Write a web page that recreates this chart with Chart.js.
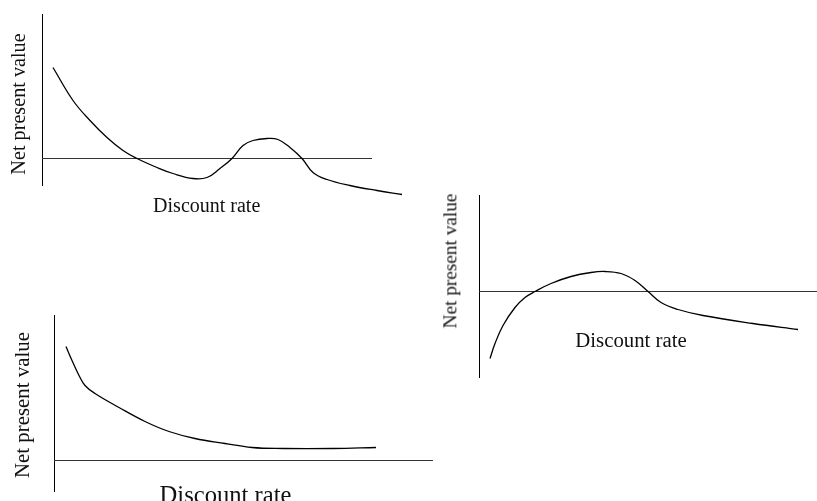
<!DOCTYPE html>
<html>
<head>
<meta charset="utf-8">
<script src="https://cdn.jsdelivr.net/npm/chart.js@4.4.1/dist/chart.umd.min.js"></script>
<style>
  html, body { margin: 0; padding: 0; background: #fff; }
  body { width: 817px; height: 501px; position: relative; overflow: hidden; }
  canvas { position: absolute; left: 0; top: 0; }
  .lbl { position: absolute; font-family: "Liberation Serif", "Times New Roman", serif; line-height: 1; white-space: nowrap; color: #111; }
  .rot { transform: translate(-50%, -50%) rotate(-90deg); }
  .hor { transform: translateX(-50%); }
</style>
</head>
<body>
<canvas id="chartTop" width="817" height="501"></canvas>
<canvas id="chartRight" width="817" height="501"></canvas>
<canvas id="chartBottom" width="817" height="501"></canvas>

<div class="lbl rot" style="left:17.7px; top:104px; font-size:20.2px;">Net present value</div>
<div class="lbl hor" style="left:206.7px; top:195px; font-size:20px;">Discount rate</div>

<div class="lbl rot" style="left:449.5px; top:260.5px; font-size:19.3px;">Net present value</div>
<div class="lbl hor" style="left:631px; top:330px; font-size:20.8px;">Discount rate</div>

<div class="lbl rot" style="left:21.8px; top:405px; font-size:20.9px;">Net present value</div>
<div class="lbl hor" style="left:225.5px; top:483px; font-size:24.6px;">Discount rate</div>

<script>
// top-left: NPV falls, dips below zero, comes back up, then falls again
const rateTop = [1.1, 3.1, 4.8, 6.5, 8.1, 9.5, 11.5, 13.1, 15.1, 16.5, 17.8, 19.0,
                 20.1, 21.1, 22.5, 23.6, 24.8, 26.0, 27.1, 28.5, 30.8, 33.5, 36.0];
const npvTop  = [9.1, 5.8, 3.8, 2.1, 0.8, 0, -0.9, -1.5, -2.0, -1.9, -1.0, 0,
                 1.3, 1.8, 2.0, 1.9, 1.1, 0, -1.4, -2.1, -2.7, -3.2, -3.6];
const zeroTop = [0, 33.0];

// right: NPV starts negative, rises above zero, then falls below
const rateRight = [1.1, 1.6, 2.4, 3.6, 4.6, 5.6, 7.2, 9.2, 11.2, 12.6, 14.2, 15.6,
                   16.9, 18.2, 19.9, 22.4, 27.4, 31.9];
const npvRight  = [-6.7, -5.2, -3.4, -1.6, -0.6, 0, 0.8, 1.5, 1.9, 2.0, 1.8, 1.1,
                   0, -1.1, -1.8, -2.4, -3.2, -3.8];
const zeroRight = [0, 33.8];

// bottom-left: NPV declines but never reaches zero
const rateBottom = [1.2, 1.8, 2.5, 3.1, 4.1, 6.5, 9.1, 11.5, 14.1, 17.1, 19.8, 22.9, 27.9, 32.2];
const npvBottom  = [11.4, 10.0, 8.5, 7.5, 6.7, 5.3, 3.9, 2.9, 2.2, 1.7, 1.3, 1.2, 1.2, 1.3];
const zeroBottom = [0, 37.9];

function points(xs, ys) {
    return xs.map((x, i) => ({x: x, y: ys[i]}));
}

function drawChart(id, rates, npvs, zero, xMax, yMin, yMax, padding) {
    const ctx = document.getElementById(id);
    new Chart(ctx, {
        type: "line",
        data: {
            datasets: [{
                data: points(rates, npvs),
                borderColor: "#000",
                borderWidth: 1.3,
                pointRadius: 0,
                tension: 0.4,
                fill: false,
                clip: false
            }, {
                data: points(zero, [0, 0]),
                borderColor: "#333",
                borderWidth: 1,
                pointRadius: 0,
                fill: false,
                clip: false
            }]
        },
        options: {
            responsive: false,
            animation: false,
            devicePixelRatio: 1,
            events: [],
            layout: {padding: padding},
            plugins: {
                legend: {display: false},
                tooltip: {enabled: false}
            },
            scales: {
                x: {type: "linear", display: false, min: 0, max: xMax},
                y: {
                    min: yMin,
                    max: yMax,
                    ticks: {display: false},
                    grid: {display: false, drawTicks: false},
                    border: {display: true, color: "#000", width: 1}
                }
            }
        }
    });
}

drawChart("chartTop", rateTop, npvTop, zeroTop, 36, -2.65, 14.45,
    {left: 42, top: 14, right: 415, bottom: 316});
drawChart("chartRight", rateRight, npvRight, zeroRight, 33.6, -8.55, 9.65,
    {left: 479, top: 195, right: 2, bottom: 124});
drawChart("chartBottom", rateBottom, npvBottom, zeroBottom, 37.9, -3.05, 14.55,
    {left: 54, top: 315, right: 384, bottom: 10});
</script>
</body>
</html>
